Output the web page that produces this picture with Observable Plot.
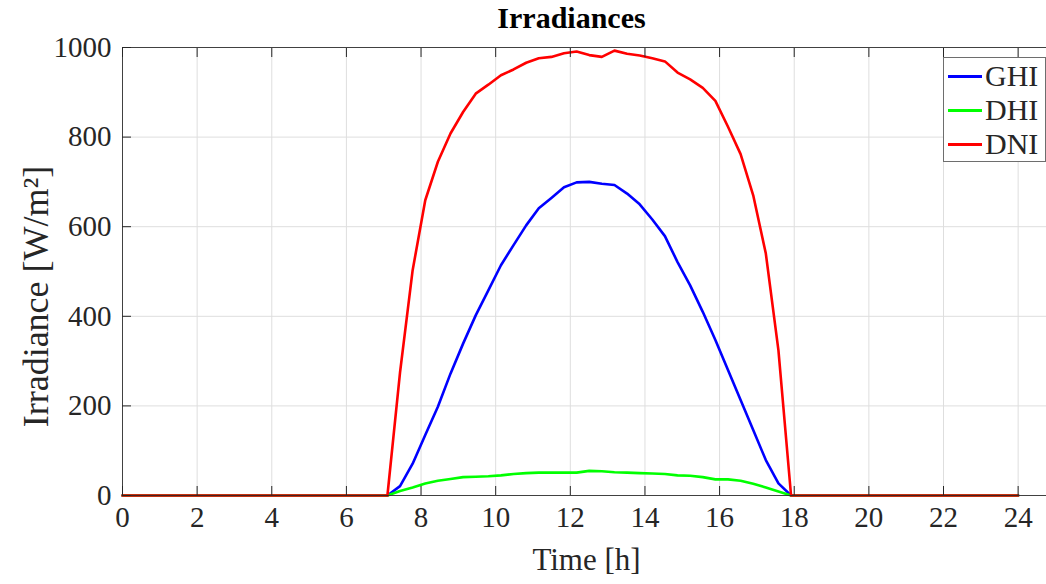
<!DOCTYPE html>
<html>
<head>
<meta charset="utf-8">
<script src="https://cdn.jsdelivr.net/npm/d3@7"></script>
<script src="https://cdn.jsdelivr.net/npm/@observablehq/plot@0.6"></script>
<style>
  body { margin: 0; background: #fff; }
  #wrap { position: relative; width: 1046px; height: 584px; overflow: hidden; }
  .legend { position: absolute; left: 943px; top: 57px; width: 103px; height: 105px; border: 1px solid #6e6e6e;
            background: #fff; box-sizing: border-box; font-family: "Liberation Serif", serif; font-size: 30px; color: #262626; }
  .item { position: absolute; left: 4px; height: 34px; display: flex; align-items: center; }
  .swatch { width: 34px; height: 3px; margin-right: 3px; }
</style>
</head>
<body>
<div id="wrap"></div>
<script>
// Time [h] samples
const hours = [0, 0.338, 0.676, 1.014, 1.352, 1.690, 2.028, 2.366, 2.704, 3.042, 3.380, 3.718,
  4.056, 4.394, 4.732, 5.070, 5.408, 5.746, 6.085, 6.423, 6.761, 7.099, 7.437, 7.775,
  8.113, 8.451, 8.789, 9.127, 9.465, 9.803, 10.141, 10.479, 10.817, 11.155, 11.493, 11.831,
  12.169, 12.507, 12.845, 13.183, 13.521, 13.859, 14.197, 14.535, 14.873, 15.211, 15.549, 15.887,
  16.225, 16.563, 16.901, 17.239, 17.577, 17.915, 18.254, 18.592, 18.930, 19.268, 19.606, 19.944,
  20.282, 20.620, 20.958, 21.296, 21.634, 21.972, 22.310, 22.648, 22.986, 23.324, 23.662, 24.000];

const ghi = [0,0,0,0,0,0,0,0,0,0,0,0,0,0,0,0,0,0,0,0,0,0,
  21, 71, 135, 198, 272, 339, 402, 458, 514, 559, 603, 641, 664, 688, 699, 700,
  696, 693, 674, 650, 616, 579, 521, 469, 410, 347, 280, 213, 146, 79, 27,
  0,0,0,0,0,0,0,0,0,0,0,0,0,0,0,0,0,0,0];

const dhi = [0,0,0,0,0,0,0,0,0,0,0,0,0,0,0,0,0,0,0,0,0,0,
  10, 18, 27, 33, 37, 41, 42, 43, 45, 48, 50, 51, 51, 51, 51, 55,
  54, 52, 51, 50, 49, 48, 45, 44, 41, 36, 36, 33, 26, 18, 9,
  0,0,0,0,0,0,0,0,0,0,0,0,0,0,0,0,0,0,0];

const dni = [0,0,0,0,0,0,0,0,0,0,0,0,0,0,0,0,0,0,0,0,0,0,
  275, 503, 659, 745, 808, 856, 897, 917, 938, 951, 966, 976, 979, 987, 991, 983,
  979, 993, 986, 982, 976, 969, 944, 929, 910, 881, 823, 762, 670, 540, 324,
  0,0,0,0,0,0,0,0,0,0,0,0,0,0,0,0,0,0,0];

const seriesNames = ["GHI", "DHI", "DNI"];
const seriesColors = ["#0000ff", "#00ff00", "#ff0000"];
const xTicks = [0, 2, 4, 6, 8, 10, 12, 14, 16, 18, 20, 22, 24];
const yTicks = [0, 200, 400, 600, 800, 1000];
const titleText = "Irradiances";
const xLabel = "Time [h]";
const yLabel = "Irradiance [W/m²]";

const seriesValues = [ghi, dhi, dni];
const rows = [];
seriesNames.forEach((name, k) => {
  hours.forEach((h, i) => rows.push({hour: h, value: seriesValues[k][i], name}));
});

const axisColor = "#262626";
const font = "'Liberation Serif', serif";
const plot = Plot.plot({
  width: 1046,
  height: 584,
  marginTop: 47,
  marginBottom: 89,
  marginLeft: 122,
  marginRight: 0,
  style: {fontFamily: font, fontSize: "28px", color: axisColor, background: "#fff", overflow: "visible"},
  x: {domain: [0, 24.76]},
  y: {domain: [0, 1000]},
  color: {domain: seriesNames, range: seriesColors},
  marks: [
    Plot.gridX(xTicks, {stroke: "#dedede", strokeOpacity: 1}),
    Plot.gridY(yTicks, {stroke: "#dedede", strokeOpacity: 1}),
    Plot.line(rows, {x: "hour", y: "value", z: "name", stroke: "name", strokeWidth: 2.6}),
    Plot.frame({stroke: axisColor, strokeOpacity: 0.85}),
    Plot.axisX(xTicks, {tickSize: -9, tickFormat: () => "", label: null, stroke: axisColor}),
    Plot.axisX(xTicks, {anchor: "top", tickSize: -9, tickFormat: () => "", label: null, stroke: axisColor}),
    Plot.axisY(yTicks, {tickSize: -9, tickFormat: () => "", label: null, stroke: axisColor}),
    // tick labels
    Plot.text(xTicks, {x: d => d, text: d => String(d), frameAnchor: "bottom", lineAnchor: "top", dy: 11, fontSize: 29, fill: axisColor}),
    Plot.text(yTicks, {y: d => d, text: d => String(d), frameAnchor: "left", textAnchor: "end", lineAnchor: "middle", dx: -11, fontSize: 29, fill: axisColor}),
    // titles
    Plot.text([titleText], {frameAnchor: "top", lineAnchor: "middle", dx: -13, dy: -29, fontWeight: "bold", fontSize: 30, fill: "#000"}),
    Plot.text([xLabel], {frameAnchor: "bottom", lineAnchor: "middle", dx: 2, dy: 65, fontSize: 31, fill: axisColor}),
    Plot.text([yLabel], {frameAnchor: "left", lineAnchor: "middle", textAnchor: "middle", dx: -86, dy: 25, rotate: -90, fontSize: 36, fill: axisColor})
  ]
});

const wrap = document.getElementById("wrap");
wrap.appendChild(plot);

const legend = document.createElement("div");
legend.className = "legend";
seriesNames.forEach((name, k) => {
  const item = document.createElement("div");
  item.className = "item";
  item.style.top = (1 + k * 34) + "px";
  const sw = document.createElement("div");
  sw.className = "swatch";
  sw.style.background = seriesColors[k];
  const label = document.createElement("span");
  label.textContent = name;
  item.appendChild(sw);
  item.appendChild(label);
  legend.appendChild(item);
});
wrap.appendChild(legend);
</script>
</body>
</html>
